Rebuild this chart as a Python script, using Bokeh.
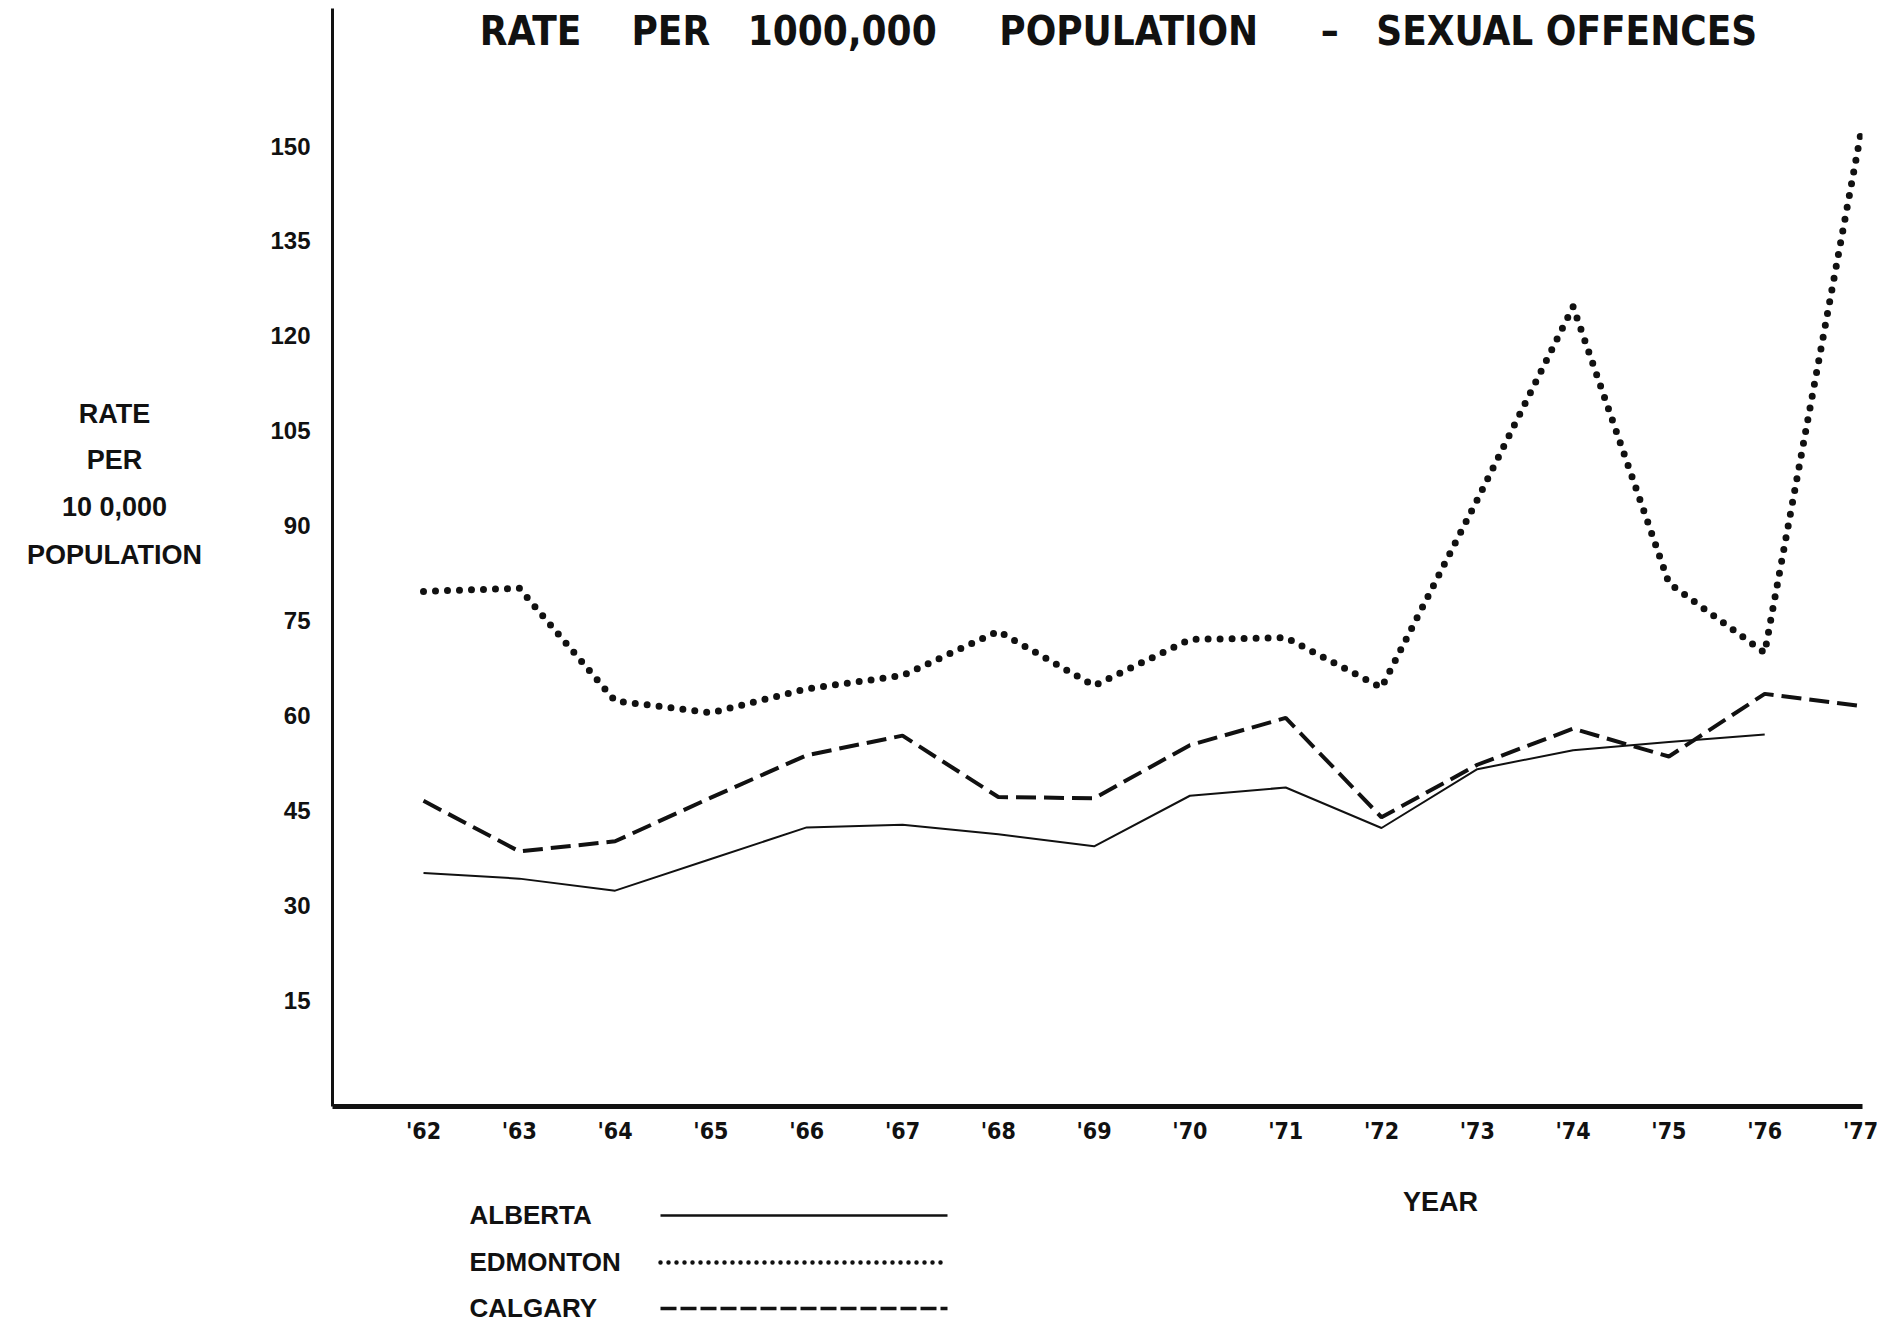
from bokeh.plotting import figure
from bokeh.models import Range1d, FixedTicker, Label
from bokeh.layouts import column, row
from bokeh.embed import file_html
from bokeh.resources import INLINE

# ---- data ----
years = [1962, 1963, 1964, 1965, 1966, 1967, 1968, 1969, 1970, 1971, 1972, 1973, 1974, 1975, 1976, 1977]
year_labels = ["'62", "'63", "'64", "'65", "'66", "'67", "'68", "'69", "'70", "'71", "'72", "'73", "'74", "'75", "'76", "'77"]
alberta = [35.1, 34.2, 32.3, 37.3, 42.3, 42.7, 41.2, 39.3, 47.3, 48.6, 42.2, 51.5, 54.5, 55.8, 57.0, float("nan")]
edmonton = [79.6, 80.1, 62.3, 60.4, 64.2, 66.3, 73.3, 64.7, 72.0, 72.3, 64.4, 94.1, 124.6, 80.9, 69.9, 151.7]
calgary = [46.5, 38.5, 40.1, 47.0, 53.7, 56.8, 47.1, 46.9, 55.3, 59.6, 43.9, 52.2, 57.9, 53.5, 63.4, 61.5]
y_ticks = [15, 30, 45, 60, 75, 90, 105, 120, 135, 150]
series_names = ["ALBERTA", "EDMONTON", "CALGARY"]
NB = "\u00a0"
title_text = ("RATE" + NB * 4 + "PER" + NB * 3 + "1000,000" + NB * 5 + "POPULATION" + NB * 5
              + "\u2013" + NB * 3 + "SEXUAL" + NB + "OFFENCES")
ylabel_lines = ["RATE", "PER", "10 0,000", "POPULATION"]
xlabel_text = "YEAR"

BLACK = "#111111"
COND = "DejaVu Sans Condensed, DejaVu Sans"
SANS = "Liberation Sans"

# ---- geometry (page pixels) ----
PAGE_W, PAGE_H = 1886, 1329
LEFT_W = 250
TOP_H = 1188
FRAME_TOP, FRAME_BOTTOM, FRAME_LEFT, FRAME_RIGHT = 8, 1106, 332, 1862
X_PAGE0, X_STEP = 423.0, 95.8
Y_PAGE150, Y_STEP = 145.5, 94.9 / 15.0


def dx(px):
    return 1962 + (px - X_PAGE0) / X_STEP


def dy(py):
    return 150 - (py - Y_PAGE150) / Y_STEP


def blank(w, h, top, bottom, y0, y1):
    f = figure(width=w, height=h, output_backend="svg", toolbar_location=None,
               x_range=Range1d(0, w), y_range=Range1d(y1, y0),
               x_axis_type=None, y_axis_type=None,
               min_border_left=0, min_border_right=0, min_border_top=top, min_border_bottom=bottom)
    f.outline_line_color = None
    f.grid.visible = False
    f.background_fill_color = "white"
    f.border_fill_color = "white"
    return f


# ---- main chart ----
p = figure(width=PAGE_W - LEFT_W, height=TOP_H, output_backend="svg", toolbar_location=None,
           x_range=Range1d(dx(FRAME_LEFT), dx(FRAME_RIGHT)),
           y_range=Range1d(dy(FRAME_BOTTOM), dy(FRAME_TOP)),
           min_border_left=FRAME_LEFT - LEFT_W, min_border_right=PAGE_W - FRAME_RIGHT,
           min_border_top=FRAME_TOP, min_border_bottom=TOP_H - FRAME_BOTTOM)
p.background_fill_color = "white"
p.border_fill_color = "white"
p.outline_line_color = None
p.grid.visible = False

p.xaxis.ticker = FixedTicker(ticks=years)
p.xaxis.major_label_overrides = {y: l for y, l in zip(years, year_labels)}
p.yaxis.ticker = FixedTicker(ticks=y_ticks)
for ax in (p.xaxis, p.yaxis):
    ax.major_tick_in = 0
    ax.major_tick_out = 0
    ax.minor_tick_in = 0
    ax.minor_tick_out = 0
    ax.axis_line_color = BLACK
    ax.major_label_text_color = BLACK
    ax.major_label_text_font_style = "bold"
p.xaxis.axis_line_width = 5
p.yaxis.axis_line_width = 3
p.xaxis.major_label_text_font = COND
p.xaxis.major_label_text_font_size = "23px"
p.xaxis.major_label_standoff = 11
p.yaxis.major_label_text_font = SANS
p.yaxis.major_label_text_font_size = "24px"
p.yaxis.major_label_standoff = 22

p.line(years, alberta, line_color=BLACK, line_width=2)
p.line(years, calgary, line_color=BLACK, line_width=4, line_dash="20 8")
p.line(years, edmonton, line_color=BLACK, line_width=7, line_dash="0 12", line_cap="round")

p.add_layout(Label(x=dx(1118), y=dy(30), text=title_text, text_align="center", text_baseline="middle",
                   text_font=COND, text_font_style="bold", text_font_size="40px", text_color=BLACK))

# ---- left panel: y label (frame aligned with the main frame, page coordinates) ----
left = blank(LEFT_W, TOP_H, FRAME_TOP, TOP_H - FRAME_BOTTOM, FRAME_TOP, FRAME_BOTTOM)
for t, py in zip(ylabel_lines, [413, 459, 506, 554]):
    left.add_layout(Label(x=114, y=py, text=t, text_align="center", text_baseline="middle",
                          text_font=SANS, text_font_style="bold", text_font_size="27px",
                          text_color=BLACK))

# ---- bottom panel: x label + legend ----
bot = blank(PAGE_W, PAGE_H - TOP_H, 0, 0, TOP_H, PAGE_H)
bot.add_layout(Label(x=1440, y=1201, text=xlabel_text, text_align="center", text_baseline="middle",
                     text_font=SANS, text_font_style="bold", text_font_size="27px", text_color=BLACK))
leg_y = [1214, 1261, 1307]
leg_styles = [dict(line_width=2.5), dict(line_width=4.5, line_dash="0 8", line_cap="round"),
              dict(line_width=3.5, line_dash="16 4")]
for name, py, st in zip(series_names, leg_y, leg_styles):
    bot.add_layout(Label(x=469, y=py, text=name, text_align="left", text_baseline="middle",
                         text_font=SANS, text_font_style="bold", text_font_size="26px",
                         text_color=BLACK))
    bot.line([660, 947], [py + 1, py + 1], line_color=BLACK, **st)

layout = column(row(left, p), bot)
open("out.html", "w").write(file_html(layout, INLINE))
